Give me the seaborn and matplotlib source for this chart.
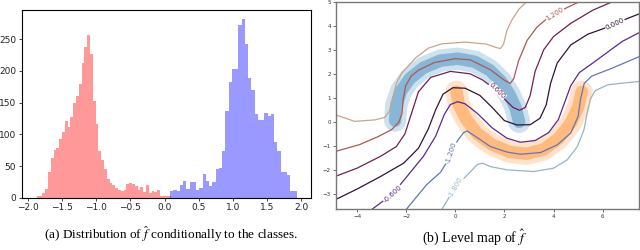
import numpy as np
import pandas as pd
import matplotlib
matplotlib.use("Agg")
import matplotlib.pyplot as plt
import seaborn as sns

# --- (a) histogram counts per bin ---
neg_start, neg_width = -1.87, 0.041
neg_counts = [2, 2, 7, 14, 41, 63, 75, 78, 93, 104, 121, 111, 127, 149, 160, 180,
              212, 238, 257, 226, 153, 116, 73, 59, 45, 29, 24, 20, 15, 12, 11, 12,
              21, 23, 22, 19, 12, 17, 9, 20, 8, 11, 9, 12, 2, 2, 2, 2]
pos_start, pos_width = 0.083, 0.0475
pos_counts = [10, 13, 11, 20, 26, 14, 25, 25, 13, 15, 37, 26, 18, 25, 45, 47, 73,
              136, 183, 203, 203, 273, 282, 242, 189, 170, 132, 122, 122, 133, 129,
              132, 88, 73, 40, 40, 36, 10, 10]

# --- (b) level lines ---
levels = [-1.8, -1.2, -0.6, 0.0, 0.6, 1.2, 1.8]
line_m18 = [(-0.55, -3.65), (0.0, -2.72), (0.55, -2.15), (0.9, -1.78), (1.1, -1.72),
            (1.45, -1.87), (2.1, -2.0), (3.2, -2.07), (4.0, -1.93), (4.56, -1.58),
            (4.97, -1.03), (5.24, -0.33), (5.37, 0.36), (5.5, 0.95), (5.7, 1.3),
            (6.2, 1.54), (6.7, 1.6), (7.5, 1.68)]
line_m12 = [(-2.0, -3.65), (-1.16, -2.61), (-0.6, -2.1), (-0.3, -1.6), (-0.1, -1.1),
            (0.15, -0.7), (0.34, -0.45), (0.48, -0.38), (0.75, -0.56), (1.43, -1.03),
            (2.11, -1.26), (2.65, -1.35), (3.47, -1.28), (4.15, -0.96), (4.7, -0.47),
            (5.0, 0.22), (5.1, 0.95), (5.25, 1.6), (5.55, 1.9), (6.4, 2.24), (7.5, 2.72)]
line_m06 = [(-3.4, -3.65), (-2.55, -3.0), (-1.97, -2.28), (-1.3, -1.44), (-0.8, -0.6),
            (-0.45, 0.3), (-0.2, 0.72), (0.1, 0.84), (0.4, 0.75), (0.9, 0.35),
            (1.5, -0.25), (2.1, -0.68), (2.65, -0.85), (3.25, -0.78), (3.8, -0.45),
            (4.2, 0.1), (4.45, 0.8), (4.7, 1.5), (5.05, 2.05), (5.6, 2.45), (6.8, 3.35),
            (7.5, 3.72)]
line_p00 = [(-4.9, -3.25), (-4.0, -2.8), (-3.05, -2.28), (-2.1, -1.72), (-1.5, -1.1),
            (-1.1, -0.3), (-0.8, 0.5), (-0.5, 1.15), (-0.1, 1.42), (0.4, 1.4),
            (1.0, 1.1), (1.5, 0.6), (2.0, 0.05), (2.5, -0.13), (3.05, -0.12),
            (3.45, 0.15), (3.7, 0.7), (3.88, 1.6), (4.15, 2.45), (4.7, 3.2), (5.4, 3.65),
            (6.0, 3.87), (7.0, 4.3), (7.5, 4.5)]
line_p06 = [(-4.9, -2.28), (-4.0, -1.93), (-3.05, -1.44), (-2.4, -1.03), (-2.05, -0.5),
            (-1.8, 0.3), (-1.5, 1.25), (-1.0, 1.85), (-0.2, 2.1), (0.6, 2.0),
            (1.1, 1.75), (1.5, 1.45), (2.0, 0.95), (2.35, 0.6), (2.62, 0.48),
            (2.85, 0.6), (3.05, 1.1), (3.25, 2.1), (3.6, 3.0), (4.0, 3.55), (4.7, 4.1),
            (5.6, 4.65), (6.4, 5.0)]
line_p12 = [(-4.9, -1.24), (-3.9, -0.95), (-3.13, -0.61), (-2.6, -0.33), (-2.3, -0.02),
            (-2.17, 0.35), (-2.12, 0.95), (-2.02, 1.5), (-1.8, 1.9), (-1.5, 2.15),
            (-0.85, 2.47), (0.0, 2.63), (0.61, 2.58), (1.43, 2.17), (1.97, 1.75),
            (2.24, 1.6), (2.38, 1.8), (2.58, 2.55), (2.93, 3.4), (3.33, 3.95),
            (3.74, 4.3), (4.3, 4.63), (4.8, 4.88), (5.05, 5.0)]
line_p18 = [(-4.9, 0.3), (-4.1, 0.02), (-3.27, 0.08), (-2.86, 0.19), (-2.68, 0.45),
            (-2.55, 1.0), (-2.4, 1.6), (-2.18, 2.03), (-1.63, 2.65), (-1.09, 3.07),
            (-0.54, 3.25), (0.4, 3.32), (1.25, 3.24), (1.65, 3.1), (1.84, 3.05),
            (1.97, 3.25), (2.1, 3.8), (2.31, 4.25), (2.6, 4.7), (2.9, 5.0)]
level_lines = [line_m18, line_m12, line_m06, line_p00, line_p06, line_p12, line_p18]

# inline labels: (level, x, y, rotation)
level_labels = [(1.2, 4.05, 4.5, 32), (0.0, 6.5, 4.08, 25), (0.6, 1.72, 1.3, -45),
                (-0.6, -2.55, -3.0, 42), (-1.2, -0.17, -1.3, 72), (-1.8, 0.0, -2.72, 60)]

# centre lines of the two moons
blue_moon = [(-2.45, 0.05), (-2.4, 0.7), (-2.2, 1.3), (-1.85, 1.8), (-1.3, 2.25),
             (-0.6, 2.55), (0.1, 2.63), (0.8, 2.5), (1.4, 2.15), (1.85, 1.7),
             (2.2, 1.15), (2.45, 0.6), (2.6, 0.0)]
orange_moon = [(0.05, 1.25), (0.15, 0.7), (0.45, 0.1), (0.9, -0.5), (1.5, -0.95),
               (2.2, -1.25), (2.9, -1.33), (3.6, -1.15), (4.2, -0.7), (4.7, -0.05),
               (5.0, 0.6), (5.15, 1.25)]

fig = plt.figure(figsize=(6.4, 2.5), dpi=100)
plt.rcParams['mathtext.fontset'] = 'stix'

# --- panel (a) ---
ax1 = fig.add_axes([0.034, 0.209, 0.4516, 0.751])
df_neg = pd.DataFrame({'f': neg_start + neg_width * (np.arange(len(neg_counts)) + 0.5),
                       'n': neg_counts})
df_pos = pd.DataFrame({'f': pos_start + pos_width * (np.arange(len(pos_counts)) + 0.5),
                       'n': pos_counts})
sns.histplot(data=df_neg, x='f', weights='n', binwidth=neg_width,
             binrange=(neg_start, neg_start + neg_width * len(neg_counts)),
             color='red', alpha=0.4, edgecolor='none', linewidth=0, ax=ax1)
sns.histplot(data=df_pos, x='f', weights='n', binwidth=pos_width,
             binrange=(pos_start, pos_start + pos_width * len(pos_counts)),
             color='blue', alpha=0.4, edgecolor='none', linewidth=0, ax=ax1)
ax1.set_xlim(-2.09, 2.14)
ax1.set_ylim(0, 296)
ax1.set_xticks(np.arange(-2.0, 2.01, 0.5))
ax1.set_yticks(np.arange(0, 251, 50))
ax1.set_xlabel('')
ax1.set_ylabel('')
ax1.tick_params(labelsize=6.5, length=2.5, width=0.6, pad=1.5, colors='#222222')
for s in ax1.spines.values():
    s.set_linewidth(0.8)

# --- panel (b) ---
ax2 = fig.add_axes([0.5245, 0.164, 0.4747, 0.829])
cmap = plt.get_cmap('twilight')
lvl_color = {lv: cmap((lv + 2.4) / 4.8) for lv in levels}

for moon, col in [(blue_moon, '#1f77b4'), (orange_moon, '#ff7f0e')]:
    mx, my = zip(*moon)
    sns.lineplot(x=list(mx), y=list(my), sort=False, estimator=None, color=col,
                 lw=16, alpha=0.22, solid_capstyle='round', solid_joinstyle='round',
                 ax=ax2, zorder=1)
    sns.lineplot(x=list(mx), y=list(my), sort=False, estimator=None, color=col,
                 lw=9, alpha=0.4, solid_capstyle='round', solid_joinstyle='round',
                 ax=ax2, zorder=1)

for lv, pts in zip(levels, level_lines):
    lx, ly = zip(*pts)
    sns.lineplot(x=list(lx), y=list(ly), sort=False, estimator=None,
                 color=lvl_color[lv], lw=0.9, solid_joinstyle='round', ax=ax2, zorder=2)

for lv, tx, ty, rot in level_labels:
    ax2.text(tx, ty, f'{lv:.3f}', color=lvl_color[lv], fontsize=5, rotation=rot,
             ha='center', va='center', zorder=3,
             bbox=dict(facecolor='white', edgecolor='none', pad=0.2))

ax2.set_xlim(-4.87, 7.5)
ax2.set_ylim(-3.63, 5.0)
ax2.set_xticks([-4, -2, 0, 2, 4, 6])
ax2.set_yticks(np.arange(-3, 6, 1))
ax2.tick_params(labelsize=4, length=2, width=0.5, pad=1.5, colors='#333333')
for s in ax2.spines.values():
    s.set_linewidth(1.0)
    s.set_color('#777777')

# --- captions ---
fig.text(0.267, 0.064, r'(a) Distribution of $\hat{f}$ conditionally to the classes.',
         ha='center', va='center', fontsize=9.5, family='Liberation Serif')
fig.text(0.741, 0.052, r'(b) Level map of $\hat{f}$',
         ha='center', va='center', fontsize=10, family='Liberation Serif')

fig.savefig('out.png', dpi=100)
